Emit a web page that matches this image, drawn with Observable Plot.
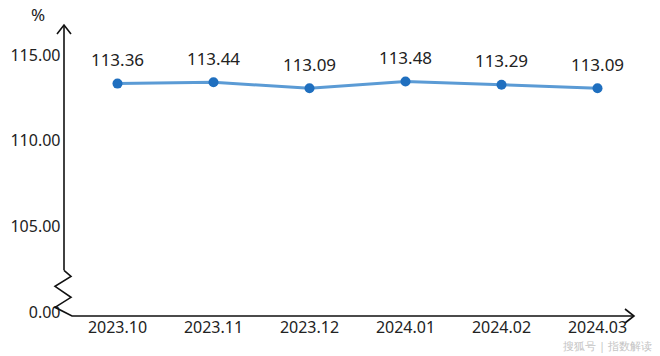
<!DOCTYPE html>
<html>
<head>
<meta charset="utf-8">
<script src="https://cdn.jsdelivr.net/npm/d3@7"></script>
<script src="https://cdn.jsdelivr.net/npm/@observablehq/plot@0.6"></script>
<style>
  html, body { margin: 0; padding: 0; background: #fff; }
  #chart { position: relative; width: 660px; height: 356px; }
  svg { font-family: "Noto Sans", "Open Sans", sans-serif; }
</style>
</head>
<body>
<div id="chart"></div>
<script>
const months = ["2023.10", "2023.11", "2023.12", "2024.01", "2024.02", "2024.03"];
const values = [113.36, 113.44, 113.09, 113.48, 113.29, 113.09];
const yTicks = [100, 105, 110, 115];
const yTickLabels = ["0.00", "105.00", "110.00", "115.00"];
const unitLabel = "%";
const watermark = "搜狐号 | 指数解读";

const data = months.map((m, i) => ({ month: m, value: values[i] }));

const chart = Plot.plot({
  width: 660,
  height: 356,
  marginLeft: 69,
  marginRight: 15,
  marginTop: 28,
  marginBottom: 40,
  style: { fontFamily: "'Noto Sans', 'Open Sans', sans-serif", background: "#fff", overflow: "visible" },
  x: { type: "point", domain: months, padding: 0.5, label: null },
  y: { domain: [100, 115], range: [312, 55], label: null },
  marks: [
    Plot.axisY({
      ticks: yTicks,
      tickFormat: d => yTickLabels[yTicks.indexOf(d)],
      tickSize: 0,
      tickPadding: 9,
      fontSize: 16,
      fill: "#222",
      label: null
    }),
    Plot.axisX({
      tickSize: 0,
      tickPadding: 5,
      fontSize: 16,
      fill: "#222",
      label: null
    }),
    Plot.line(data, { x: "month", y: "value", stroke: "#5b9bd5", strokeWidth: 3 }),
    Plot.dot(data, { x: "month", y: "value", r: 5, fill: "#1f6fbf", stroke: "none" }),
    Plot.text(data, { x: "month", y: "value", text: d => d.value.toFixed(2), dy: -23, fontSize: 17, fill: "#222" })
  ]
});

document.getElementById("chart").appendChild(chart);

// Broken-axis decorations drawn from the plot's scales
const svg = d3.select(chart);
const ys = chart.scale("y");
const yTop = ys.apply(115) - 30;       // arrow tip above top tick
const yBreak = ys.apply(105) + 44;     // where the zigzag begins
const xBase = 316;                     // x-axis baseline
const xAxisX = 64;
const g = svg.append("g").attr("fill", "none").attr("stroke", "#111").attr("stroke-width", 1.6);
g.append("path").attr("d", `M${xAxisX},${yBreak} L${xAxisX},${yTop}`);
g.append("path").attr("d", `M${xAxisX - 7},${yTop + 9} L${xAxisX},${yTop} L${xAxisX + 7},${yTop + 9}`);
g.append("path").attr("d",
  `M${xAxisX},${yBreak} L71,${yBreak + 6} L55,${yBreak + 16} L71,${yBreak + 27} L55,${yBreak + 37} L72,${xBase} L634,${xBase}`);
g.append("path").attr("d", `M625,${xBase - 7} L634,${xBase} L625,${xBase + 7}`);

svg.append("text").attr("x", 38).attr("y", 21).attr("text-anchor", "middle")
  .attr("font-size", 17).attr("fill", "#222").text(unitLabel);
svg.append("text").attr("x", 652).attr("y", 350).attr("text-anchor", "end")
  .attr("font-size", 11).attr("fill", "#c4c4c4").text(watermark);
</script>
</body>
</html>
